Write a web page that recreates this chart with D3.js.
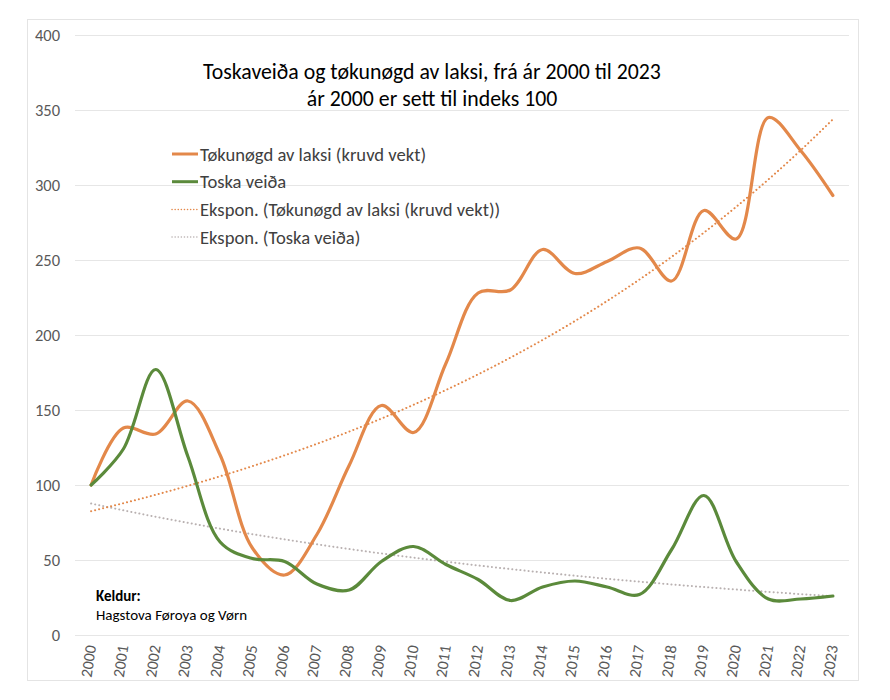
<!DOCTYPE html>
<html><head><meta charset="utf-8">
<script src="https://cdn.jsdelivr.net/npm/d3@7"></script>
<style>
html,body{margin:0;padding:0;background:#fff;}
svg text{font-family:Carlito,Calibri,"Liberation Sans",Arial,sans-serif;}
</style></head>
<body><svg id="c" width="890" height="700"></svg>
<script>
const years = [2000,2001,2002,2003,2004,2005,2006,2007,2008,2009,2010,2011,2012,2013,2014,2015,2016,2017,2018,2019,2020,2021,2022,2023];
const laks = [100,138,134,156,120,58,40,67,113,153,135,181,228,230,257,241,249,258,236,283,264,345,323,293];
const toskur = [100,124,177,119,62,51,49,34,30,49,59,47,37,23,32,36,32,27,57,93,49,24,24,26];
const yTicks = [0,50,100,150,200,250,300,350,400];
const seriesNames = ["Tøkunøgd av laksi (kruvd vekt)","Toska veiða","Ekspon. (Tøkunøgd av laksi (kruvd vekt))","Ekspon. (Toska veiða)"];
const titleLines = ["Toskaveiða og tøkunøgd av laksi, frá ár 2000 til 2023","ár 2000 er sett til indeks 100"];
const sourceLines = ["Keldur:","Hagstova Føroya og Vørn"];

const ORANGE = "#E3884A", GREEN = "#5B8A3B", GRAYTREND = "#B9B1B1";

const svg = d3.select("#c");
svg.append("rect").attr("x",27.5).attr("y",19.5).attr("width",831).attr("height",661)
  .attr("fill","#fff").attr("stroke","#E4E4E4").attr("stroke-width",1);

const x = d3.scalePoint().domain(years).range([75,849]).padding(0.5);
const y = d3.scaleLinear().domain([0,400]).range([635,35]);

// gridlines
svg.append("g").selectAll("line").data(yTicks).join("line")
  .attr("x1",75).attr("x2",849).attr("y1",d=>y(d)+0.5).attr("y2",d=>y(d)+0.5)
  .attr("stroke","#E6E6E6").attr("stroke-width",1);

// y axis labels
svg.append("g").selectAll("text").data(yTicks).join("text")
  .attr("x",60).attr("y",d=>y(d)).attr("dy","0.35em").attr("text-anchor","end")
  .attr("font-size",16.5).attr("fill","#595959").text(d=>d);

// x axis labels
svg.append("g").selectAll("text").data(years).join("text")
  .attr("transform",d=>`translate(${x(d)+5},646) rotate(-82)`)
  .attr("text-anchor","end").attr("font-size",16).attr("fill","#595959").text(d=>d);

// exponential trend (least squares on ln y, x = 1..n)
function expFit(vals){
  const n = vals.length; let sx=0,sy=0,sxx=0,sxy=0;
  vals.forEach((v,i)=>{const xi=i+1, yi=Math.log(v); sx+=xi; sy+=yi; sxx+=xi*xi; sxy+=xi*yi;});
  const b=(n*sxy-sx*sy)/(n*sxx-sx*sx); const a=(sy-b*sx)/n;
  return vals.map((v,i)=>Math.exp(a+b*(i+1)));
}
const trendL = expFit(laks), trendT = expFit(toskur);

const line = d3.line().x((d,i)=>x(years[i])).y(d=>y(d)).curve(d3.curveCatmullRom.alpha(0.5));
const tline = d3.line().x((d,i)=>x(years[i])).y(d=>y(d)).curve(d3.curveMonotoneX);

svg.append("path").attr("d",tline(trendT)).attr("fill","none").attr("stroke",GRAYTREND)
  .attr("stroke-width",2).attr("stroke-dasharray","0.1,4").attr("stroke-linecap","round");
svg.append("path").attr("d",tline(trendL)).attr("fill","none").attr("stroke",ORANGE)
  .attr("stroke-width",2).attr("stroke-dasharray","0.1,4").attr("stroke-linecap","round");

svg.append("path").attr("d",line(laks)).attr("fill","none").attr("stroke",ORANGE)
  .attr("stroke-width",3.2).attr("stroke-linejoin","round").attr("stroke-linecap","round");
svg.append("path").attr("d",line(toskur)).attr("fill","none").attr("stroke",GREEN)
  .attr("stroke-width",3.2).attr("stroke-linejoin","round").attr("stroke-linecap","round");

// title
svg.append("g").selectAll("text").data(titleLines).join("text")
  .attr("x",432).attr("y",(d,i)=>79+i*27).attr("text-anchor","middle")
  .attr("font-size",21.8).attr("fill","#000").text(d=>d);

// legend
const leg = svg.append("g");
const legColors = [ORANGE,GREEN,ORANGE,GRAYTREND];
seriesNames.forEach((name,i)=>{
  const ly = 154 + i*27.7;
  const ln = leg.append("line").attr("x1",172).attr("x2",198).attr("y1",ly).attr("y2",ly)
    .attr("stroke",legColors[i]);
  if(i<2) ln.attr("stroke-width",3);
  else ln.attr("stroke-width",1.5).attr("stroke-dasharray","0.1,3").attr("stroke-linecap","round");
  leg.append("text").attr("x",200).attr("y",ly).attr("dy","0.35em")
    .attr("font-size",18.6).attr("fill","#404040").text(name);
});

// source
svg.append("text").attr("x",96).attr("y",601).attr("font-size",15).attr("font-weight","bold")
  .attr("fill","#000").text(sourceLines[0]);
svg.append("text").attr("x",96).attr("y",620).attr("font-size",15)
  .attr("fill","#000").text(sourceLines[1]);
</script></body></html>
